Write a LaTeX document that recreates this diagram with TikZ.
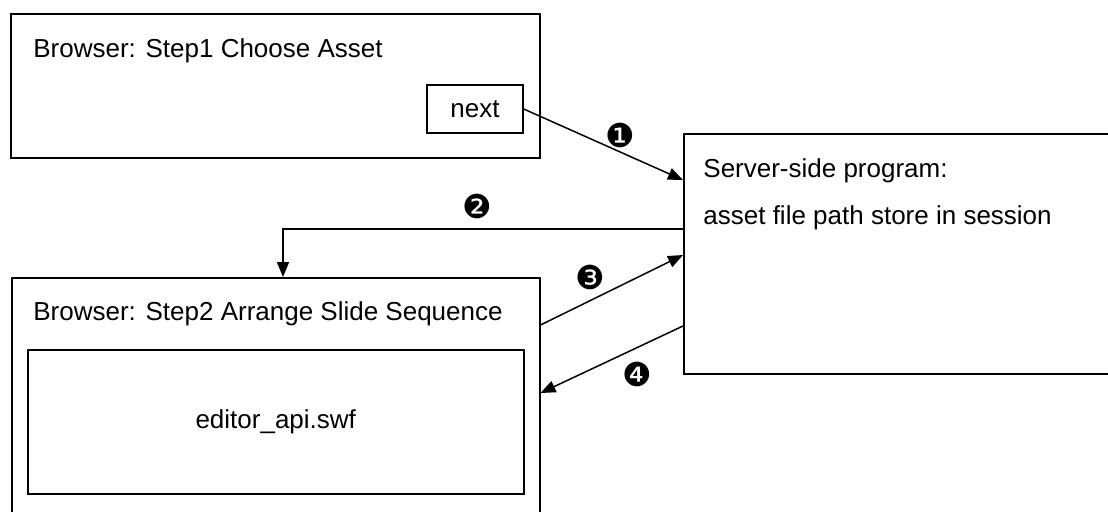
\documentclass[tikz,border=0pt]{standalone}
\usepackage{fontspec}
\setmainfont{Liberation Sans}
\newfontfamily\djfont{DejaVu Sans}
\usetikzlibrary{arrows.meta,calc}
\begin{document}
\begin{tikzpicture}[x=0.5pt,y=-0.5pt,
  box/.style={draw,line width=0.75pt,rectangle,inner sep=0pt,anchor=north west},
  lbl/.style={inner sep=0pt,anchor=base west,font=\fontsize{13}{15.6}\selectfont},
  num/.style={inner sep=0pt,font=\djfont\fontsize{16.5}{19}\selectfont},
  conn/.style={line width=0.75pt,-{Triangle[length=7.5pt,width=6pt]}}]
\useasboundingbox (0,0) rectangle (1108,511);
\clip (0,0) rectangle (1108,511);
\fill[white] (0,0) rectangle (1108,511);
% boxes
\node[box,minimum width=264.5pt,minimum height=72pt] (b1) at (10,13) {};
\node[box,minimum width=48pt,minimum height=24pt,anchor=center,font=\fontsize{13}{15.6}\selectfont] (next) at (475,109) {next};
\node[box,minimum width=264pt,minimum height=125pt] (b2) at (11,277) {};
\node[box,minimum width=248pt,minimum height=72pt] (ed) at (27,349) {};
\node[box,minimum width=240pt,minimum height=120pt] (srv) at (683,133) {};
% texts
\node[lbl] (t1) at (33,57) {Browser: Step1 Choose Asset};
\node[lbl] (t2) at (33,320) {Browser: Step2 Arrange Slide Sequence};
\node[lbl] (s1) at (703,177) {Server-side program:};
\node[lbl] (s2) at (703,224) {asset file path store in session};
\node[inner sep=0pt,font=\fontsize{13}{15.6}\selectfont] (edt) at (ed.center) {editor\_api.swf};
% numbers
\node[num] (n1) at (620,135) {❶};
\node[num] (n2) at (477,206) {❷};
\node[num] (n3) at (590,277) {❸};
\node[num] (n4) at (637,374) {❹};
% connectors
\draw[conn] (next.east) -- ($(srv.north west)+(0,47)$);
\draw[conn] ($(srv.north west)+(0,96)$) -| ($(b2.north west)+(272,0)$);
\draw[conn] ($(b2.north east)+(0,48)$) -- ($(srv.north west)+(0,122)$);
\draw[conn] ($(srv.north west)+(0,193)$) -- ($(b2.north east)+(0,116)$);
\end{tikzpicture}
\end{document}
